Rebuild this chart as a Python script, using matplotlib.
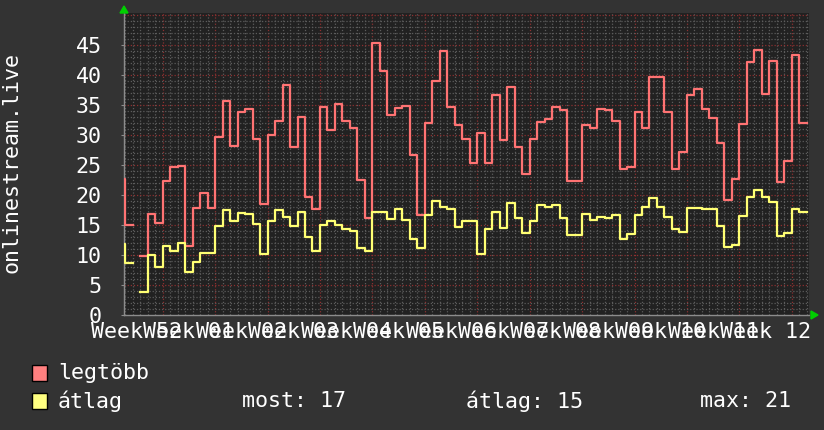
import numpy as np
import matplotlib
matplotlib.use("Agg")
import matplotlib.pyplot as plt
from matplotlib.patches import Rectangle, Polygon

# ---- data (daily values; first entry is a partial day before day 0, None = gap) ----
max_vals = [22.6, 15.0, None, 9.9, 16.9, 15.4, 22.4, 24.6, 24.9, 11.5, 17.9, 20.4, 17.9,
            29.7, 35.6, 28.2, 33.8, 34.4, 29.3, 18.5, 30.0, 32.3, 38.3, 28.0, 33.0,
            19.7, 17.7, 34.6, 30.8, 35.2, 32.4, 31.2, 22.5, 16.1, 45.4, 40.6, 33.4,
            34.5, 34.9, 26.6, 16.7, 32.0, 39.0, 44.0, 34.6, 31.7, 29.4, 25.3, 30.4,
            25.3, 36.7, 29.2, 38.0, 28.0, 23.5, 29.4, 32.2, 32.7, 34.6, 34.2, 22.3,
            22.3, 31.6, 31.2, 34.4, 34.2, 32.4, 24.3, 24.6, 33.8, 31.1, 39.6, 39.6,
            33.8, 24.4, 27.2, 36.6, 37.7, 34.3, 32.8, 28.7, 19.2, 22.7, 31.9, 42.1,
            44.2, 36.8, 42.3, 22.1, 25.7, 43.4, 32.0]
avg_vals = [11.9, 8.6, None, 3.8, 10.0, 8.0, 11.5, 10.7, 12.0, 7.1, 8.8, 10.4, 10.4,
            14.8, 17.5, 15.7, 17.0, 16.8, 15.2, 10.1, 15.7, 17.5, 16.3, 14.8, 17.2,
            13.0, 10.6, 15.0, 15.7, 15.0, 14.4, 14.0, 11.1, 10.7, 17.2, 17.2, 16.0,
            17.7, 15.8, 12.7, 11.2, 16.7, 19.0, 18.0, 17.7, 14.7, 15.7, 15.7, 10.2,
            14.4, 17.2, 14.5, 18.6, 16.1, 13.7, 15.7, 18.4, 18.0, 18.4, 16.2, 13.3,
            13.3, 16.8, 15.8, 16.4, 16.1, 16.6, 12.6, 13.5, 16.6, 18.0, 19.5, 18.0,
            16.4, 14.3, 13.9, 17.9, 17.9, 17.6, 17.7, 14.8, 11.4, 11.7, 16.5, 19.6,
            20.8, 19.6, 18.9, 13.1, 13.7, 17.7, 17.1]
week_labels = ["Week 52", "Week 01", "Week 02", "Week 03", "Week 04", "Week 05",
               "Week 06", "Week 07", "Week 08", "Week 09", "Week 10", "Week 11", "Week 12"]
y_ticks = [0, 5, 10, 15, 20, 25, 30, 35, 40, 45]
series_names = ["legtöbb", "átlag"]
stats_labels = ["most: 17", "átlag: 15", "max: 21"]
axis_title = "onlinestream.live"

# ---- styling ----
W, H = 824, 430
BG = "#333333"
PLOT_BG = "#212121"
RED = "#ff7373"
YEL = "#ffff73"
FONT = "DejaVu Sans Mono"
FS = 15.6

fig = plt.figure(figsize=(W / 100, H / 100), dpi=100, facecolor=BG)
L, R, T, B = 124, 809, 13, 315
ax = fig.add_axes([L / W, 1 - B / H, (R - L) / W, (B - T) / H])
ax.set_facecolor(PLOT_BG)

xmin, xmax = -0.17, 91.3
ymax = (B - T) / 6.0
ax.set_xlim(xmin, xmax)
ax.set_ylim(0, ymax)

# grid: minor every day / unit, major every week / 5 units
for d in range(0, 92):
    wk = (d - 5) % 7 == 0
    ax.axvline(d, color="#8c3030" if wk else "#5c5c5c", lw=0.9,
               ls=(0, (1, 1.5)), zorder=1)
for v in range(1, int(ymax) + 1):
    maj = v % 5 == 0
    ax.axhline(v, color="#8c3030" if maj else "#5c5c5c", lw=0.9,
               ls=(0, (1, 1.5)), zorder=1)

def to_arr(vals):
    return np.array([np.nan if v is None else v for v in vals], dtype=float)

days = np.arange(-1, len(max_vals) - 1)
mx = to_arr(max_vals)
av = to_arr(avg_vals)
xs = np.append(days, days[-1] + 1)
ax.plot(xs, np.append(mx, mx[-1]), drawstyle="steps-post", color=RED, lw=1.6, zorder=3)
ax.plot(xs, np.append(av, av[-1]), drawstyle="steps-post", color=YEL, lw=1.6, zorder=3)

for s in ["top", "right"]:
    ax.spines[s].set_visible(False)
for s in ["left", "bottom"]:
    ax.spines[s].set_color("#8c8c8c")
    ax.spines[s].set_linewidth(1.0)

ax.set_yticks(y_ticks)
ax.set_yticklabels([str(t) for t in y_ticks], fontfamily=FONT, fontsize=FS, color="white")
ax.tick_params(axis="y", length=2, color="#8c8c8c", pad=14)
ax.set_xticks([])

# week labels centred mid-week
for i, lab in enumerate(week_labels):
    ax.text(1.5 + 7 * i, -0.022, lab, transform=ax.get_xaxis_transform(),
            ha="center", va="top", fontfamily=FONT, fontsize=FS, color="white",
            clip_on=False)

# arrows
fig.patches.append(Polygon([[120 / W, 1 - 13 / H], [128 / W, 1 - 13 / H], [124 / W, 1 - 6 / H]],
                           closed=True, color="#00d000", transform=fig.transFigure))
fig.patches.append(Polygon([[811 / W, 1 - 311 / H], [811 / W, 1 - 319 / H], [818 / W, 1 - 315 / H]],
                           closed=True, color="#00d000", transform=fig.transFigure))

# axis title
fig.text(12 / W, 1 - 163 / H, axis_title, rotation=90, ha="center", va="center",
         fontfamily=FONT, fontsize=FS, color="white")

# legend
for (yc, col, name) in [(373, "#ff8080", series_names[0]), (401, "#ffff80", series_names[1])]:
    fig.patches.append(Rectangle((32 / W, 1 - (yc + 8) / H), 15 / W, 16 / H,
                                 facecolor=col, edgecolor="black", lw=1,
                                 transform=fig.transFigure))
    fig.text(58 / W, 1 - yc / H, name, ha="left", va="center",
             fontfamily=FONT, fontsize=FS, color="white")
for xpos, s in zip([242, 466, 700], stats_labels):
    fig.text(xpos / W, 1 - 401 / H, s, ha="left", va="center",
             fontfamily=FONT, fontsize=FS, color="white")

fig.savefig("out.png", dpi=100, facecolor=BG)
